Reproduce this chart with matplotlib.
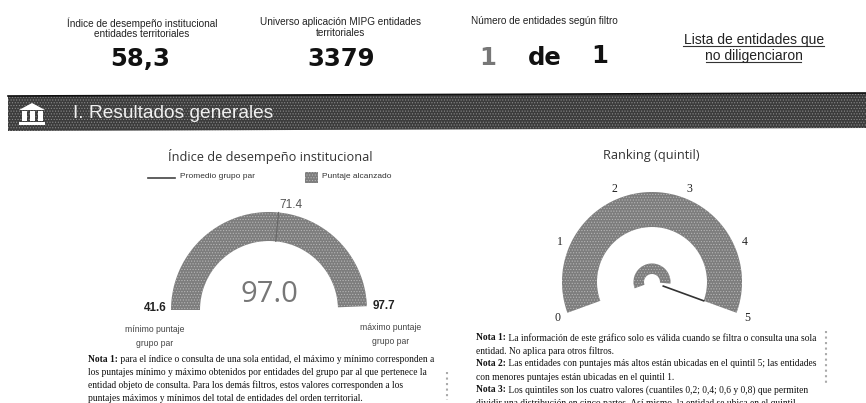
import numpy as np
import matplotlib
matplotlib.use("Agg")
import matplotlib.pyplot as plt

# ── data ───────────────────────────────────────────────────────────────────
SCORE = 97.0
SCORE_MIN = 41.6
SCORE_MAX = 97.7
GROUP_AVG = 71.4

QUINTIL_TICKS = [0, 1, 2, 3, 4, 5]
QUINTIL_VALUE = 5

KPI_LABELS = ["Índice de desempeño institucional\nentidades territoriales",
              "Universo aplicación MIPG entidades\nterritoriales",
              "Número de entidades según filtro"]
KPI_VALUES = ["58,3", "3379"]

NOTE_LEFT = [("Nota 1:", " para el índice o consulta de una sola entidad, el máximo y mínimo corresponden a"),
             ("", "los puntajes mínimo y máximo obtenidos por entidades del grupo par al que pertenece la"),
             ("", "entidad objeto de consulta. Para los demás filtros, estos valores corresponden a los"),
             ("", "puntajes máximos y mínimos del total de entidades del orden territorial.")]
NOTE_RIGHT = [("Nota 1:", " La información de este gráfico solo es válida cuando se filtra o consulta una sola"),
              ("", "entidad. No aplica para otros filtros."),
              ("Nota 2:", " Las entidades con puntajes más altos están ubicadas en el quintil 5; las entidades"),
              ("", "con menores puntajes están ubicadas en el quintil 1."),
              ("Nota 3:", " Los quintiles son los cuatro valores (cuantiles 0,2; 0,4; 0,6 y 0,8) que permiten"),
              ("", "dividir una distribución en cinco partes. Así mismo, la entidad se ubica en el quintil")]

BAND = "#7d7d7d"
BAND_DOT = "#b5b5b5"
DARK = "#3c3c3c"
DARK_DOT = "#8a8a8a"
SANS = "Liberation Sans"
SERIF = "Liberation Serif"
OPEN = "Open Sans"

plt.rcParams["font.family"] = SANS
plt.rcParams["hatch.linewidth"] = 0.5

fig = plt.figure(figsize=(8.66, 4.03), dpi=100)
ax = fig.add_axes([0, 0, 1, 1])
ax.set_xlim(0, 866)
ax.set_ylim(403, 0)
ax.axis("off")


def band(cx, cy, r0, r1, a0, a1):
    # angles in degrees, y axis points down so the sine is flipped
    t = np.radians(np.linspace(a0, a1, 120))
    xs = np.r_[cx + r1 * np.cos(t), cx + r0 * np.cos(t[::-1])]
    ys = np.r_[cy - r1 * np.sin(t), cy - r0 * np.sin(t[::-1])]
    ax.fill(xs, ys, facecolor=BAND, edgecolor=BAND_DOT, hatch="......", lw=0)


def note(x, y, bold, rest):
    # bold "Nota n:" prefix with the sentence chained after it
    if bold:
        t = ax.text(x, y, bold, family=SERIF, fontsize=6.85, fontweight="bold", ha="left", va="center", color="#111111")
        ax.annotate(rest, xy=(1, 0.5), xycoords=t, family=SERIF, fontsize=6.85, ha="left", va="center", color="#111111")
    else:
        ax.text(x, y, rest, family=SERIF, fontsize=6.85, ha="left", va="center", color="#111111")


# ── KPIs ───────────────────────────────────────────────────────────────────
ax.text(142, 23, KPI_LABELS[0].split("\n")[0], fontsize=7.2, ha="center", va="center", color="#222222")
ax.text(142, 34, KPI_LABELS[0].split("\n")[1], fontsize=7.2, ha="center", va="center", color="#222222")
ax.text(340, 22, KPI_LABELS[1].split("\n")[0], fontsize=7.2, ha="center", va="center", color="#222222")
ax.text(340, 33, KPI_LABELS[1].split("\n")[1], fontsize=7.2, ha="center", va="center", color="#222222")
ax.text(544, 21, KPI_LABELS[2], fontsize=7.2, ha="center", va="center", color="#222222")

big = dict(family="DejaVu Sans", fontsize=17.5, fontweight="bold", ha="center", color="#111111")
ax.text(140, 66, KPI_VALUES[0], va="baseline", **big)
ax.text(341, 66, KPI_VALUES[1], va="baseline", **big)
ax.text(488, 65, "1", va="baseline", family="DejaVu Sans", fontsize=17.5, fontweight="bold", ha="center", color="#777777")
ax.text(545, 65, "de", va="baseline", **big)
ax.text(600, 63, "1", va="baseline", **big)

ax.text(754, 40, "Lista de entidades que", fontsize=10, ha="center", va="center", color="#222222")
ax.text(754, 56, "no diligenciaron", fontsize=10, ha="center", va="center", color="#222222")
ax.plot([683, 824], [45.5, 45.5], color="#333333", lw=0.8)
ax.plot([706, 801], [61.5, 61.5], color="#333333", lw=0.8)

# ── section header (the scan is slightly skewed) ───────────────────────────
ax.fill([8, 866, 866, 8], [96, 93, 128, 131], facecolor=DARK, edgecolor=DARK_DOT, hatch="......", lw=0)
ax.plot([8, 866], [96, 93], color="#111111", lw=1.2)
ax.text(73, 113, "I. Resultados generales", fontsize=13.8, ha="left", va="center", color="#f0f0f0")
ax.fill([19, 32, 45], [110, 103, 110], color="white", lw=0)
for col_x in [22, 30, 38]:
    ax.fill_between([col_x, col_x + 5], 111, 121, color="white", lw=0)
ax.fill_between([19, 45], 122, 125, color="white", lw=0)

# ── gauge 1 ────────────────────────────────────────────────────────────────
cx1, cy1 = 269, 310
a_score = 180 - 180 * (SCORE - SCORE_MIN) / (SCORE_MAX - SCORE_MIN)
a_avg = 180 - 180 * (GROUP_AVG - SCORE_MIN) / (SCORE_MAX - SCORE_MIN)
band(cx1, cy1, 69, 98, 180, a_score)
t = np.radians(a_avg)
ax.plot([cx1 + 69 * np.cos(t), cx1 + 98 * np.cos(t)],
        [cy1 - 69 * np.sin(t), cy1 - 98 * np.sin(t)], color="#666666", lw=0.8)

ax.text(270, 156, "Índice de desempeño institucional", family=OPEN, fontsize=9.2, ha="center", va="center", color="#333333")
ax.plot([148, 175], [178, 178], color="#444444", lw=1.2)
ax.text(180, 177, "Promedio grupo par", fontsize=6, ha="left", va="center", color="#333333")
ax.fill([305, 318, 318, 305], [172, 172, 183, 183], facecolor=BAND, edgecolor=BAND_DOT, hatch="......", lw=0)
ax.text(322, 177, "Puntaje alcanzado", fontsize=6, ha="left", va="center", color="#333333")

ax.text(291, 205, f"{GROUP_AVG:.1f}", fontsize=8.5, ha="center", va="center", color="#555555")
ax.text(269, 295, f"{SCORE:.1f}", family=OPEN, fontsize=21, ha="center", va="center", color="#777777")
ax.text(167, 308, f"{SCORE_MIN:.1f}", fontsize=8.4, fontweight="bold", ha="right", va="center", color="#222222")
ax.text(373, 306, f"{SCORE_MAX:.1f}", fontsize=8.4, fontweight="bold", ha="left", va="center", color="#222222")
ax.text(155, 330, "mínimo puntaje", fontsize=6.2, ha="center", va="center", color="#444444")
ax.text(155, 343, "grupo par", fontsize=6.2, ha="center", va="center", color="#444444")
ax.text(391, 328, "máximo puntaje", fontsize=6.2, ha="center", va="center", color="#444444")
ax.text(391, 341, "grupo par", fontsize=6.2, ha="center", va="center", color="#444444")

for i, (bold, rest) in enumerate(NOTE_LEFT):
    note(88, 360 + i * 12.7, bold, rest)

# ── gauge 2 ────────────────────────────────────────────────────────────────
cx2, cy2 = 652, 282
A0, A1 = 200, -20


def q_angle(v):
    return A0 + (A1 - A0) * (v - QUINTIL_TICKS[0]) / (QUINTIL_TICKS[-1] - QUINTIL_TICKS[0])


band(cx2, cy2, 55, 90, A0, A1)
band(cx2, cy2, 8, 18.5, A0, q_angle(QUINTIL_VALUE) + 15)
t = np.radians(q_angle(QUINTIL_VALUE))
ax.plot([cx2 + 12 * np.cos(t), cx2 + 55 * np.cos(t)],
        [cy2 - 12 * np.sin(t), cy2 - 55 * np.sin(t)], color="#333333", lw=1.2)
for v in QUINTIL_TICKS:
    t = np.radians(q_angle(v))
    ax.text(cx2 + 101 * np.cos(t), cy2 + 1 - 101 * np.sin(t), str(v), family=SERIF, fontsize=8.5,
            ha="center", va="center", color="#222222")

ax.text(651, 155, "Ranking (quintil)", family=OPEN, fontsize=9.2, ha="center", va="center", color="#333333")

for i, (bold, rest) in enumerate(NOTE_RIGHT):
    note(476, 338 + i * 13, bold, rest)

# stray scan marks at the margins
ax.plot([826, 826], [331, 386], color="#aaaaaa", lw=1.5, ls=":")
ax.plot([447, 447], [372, 400], color="#aaaaaa", lw=1.5, ls=":")

fig.savefig("out.png", dpi=100)
